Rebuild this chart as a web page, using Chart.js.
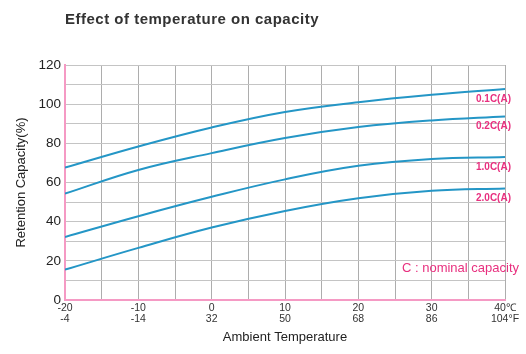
<!DOCTYPE html>
<html>
<head>
<meta charset="utf-8">
<script src="https://cdn.jsdelivr.net/npm/chart.js@4/dist/chart.umd.min.js"></script>
<style>
  body { margin: 0; background: #fff; }
  canvas { display: block; }
</style>
</head>
<body>
<canvas id="tempChart" width="526" height="354"></canvas>
<script>
// temperatures in C, with matching F labels
const tempsC = [-20, -10, 0, 10, 20, 30, 40];
const tempsF = { '-20': '-4', '-10': '-14', '0': '32', '10': '50', '20': '68', '30': '86', '40': '104°F' };

// retention capacity (%) per discharge rate
const cap01 = [67.6, 78.4, 88.1, 96, 101, 104.8, 107.8];
const cap02 = [54.3, 66.4, 75, 82.7, 88.3, 91.7, 93.7];
const cap10 = [32.2, 42.8, 52.7, 61.6, 68.5, 72, 73];
const cap20 = [15.5, 26.6, 37, 45.5, 52, 55.8, 57];

const seriesLabels = ['0.1C(A)', '0.2C(A)', '1.0C(A)', '2.0C(A)'];

const font = '"Liberation Sans", Arial, sans-serif';
const lineColor = '#2496c6';
const pink = '#e8307f';

function toPoints(vals) {
    return tempsC.map(function(t, i) { return { x: t, y: vals[i] }; });
}

const extras = {
    id: 'extras',
    afterDatasetsDraw(chart) {
        const ctx = chart.ctx;
        const area = chart.chartArea;
        ctx.save();
        // curve labels
        ctx.fillStyle = pink;
        ctx.font = 'bold 10px ' + font;
        ctx.textAlign = 'right';
        ctx.textBaseline = 'middle';
        chart.data.datasets.forEach(function(ds, i) {
            const pts = chart.getDatasetMeta(i).data;
            const last = pts[pts.length - 1];
            ctx.fillText(ds.label, area.right + 6, last.y + 10);
        });
        // note
        ctx.font = '13px ' + font;
        ctx.fillText('C : nominal capacity', area.right + 14, 268);
        // title
        ctx.fillStyle = '#333';
        ctx.font = 'bold 15px ' + font;
        ctx.letterSpacing = '0.5px';
        ctx.textAlign = 'left';
        ctx.fillText('Effect of temperature on capacity', area.left, 20);
        ctx.restore();
    }
};

const ds = function(label, vals) {
    return {
        label: label,
        data: toPoints(vals),
        borderColor: lineColor,
        borderWidth: 2,
        pointRadius: 0,
        tension: 0.4,
        fill: false
    };
};

new Chart(document.getElementById('tempChart').getContext('2d'), {
    type: 'line',
    data: {
        datasets: [
            ds(seriesLabels[0], cap01),
            ds(seriesLabels[1], cap02),
            ds(seriesLabels[2], cap10),
            ds(seriesLabels[3], cap20)
        ]
    },
    options: {
        responsive: false,
        animation: false,
        layout: { padding: { top: 65, right: 21, left: 0, bottom: 0 } },
        plugins: {
            legend: { display: false },
            tooltip: { enabled: false }
        },
        scales: {
            x: {
                type: 'linear',
                min: -20,
                max: 40,
                afterFit: function(scale) { scale.height = 54; },
                grid: { color: '#adadad', lineWidth: 1, drawTicks: false },
                border: { color: '#f59ac4', width: 2 },
                ticks: {
                    stepSize: 5,
                    autoSkip: false,
                    maxRotation: 0,
                    padding: 3,
                    color: '#333',
                    font: { family: font, size: 10.5, lineHeight: 1.05 },
                    callback: function(v) {
                        if (v % 10 !== 0) return '';
                        const c = v === 40 ? '40℃' : String(v);
                        return [c, tempsF[String(v)]];
                    }
                },
                title: {
                    display: true,
                    text: 'Ambient Temperature',
                    color: '#222',
                    font: { family: font, size: 13 },
                    padding: { top: 0, bottom: 9 }
                }
            },
            y: {
                min: 0,
                max: 120,
                afterFit: function(scale) { scale.width = 65; },
                grid: { color: '#c4c4c4', lineWidth: 1, drawTicks: false },
                border: { color: '#f59ac4', width: 2 },
                ticks: {
                    stepSize: 10,
                    padding: 4,
                    color: '#222',
                    font: { family: font, size: 13.5 },
                    callback: function(v) { return v % 20 === 0 ? v : ''; }
                },
                title: {
                    display: true,
                    text: 'Retention Capacity(%)',
                    color: '#222',
                    font: { family: font, size: 13 },
                    padding: { top: 14, bottom: 0 }
                }
            }
        }
    },
    plugins: [extras]
});
</script>
</body>
</html>
